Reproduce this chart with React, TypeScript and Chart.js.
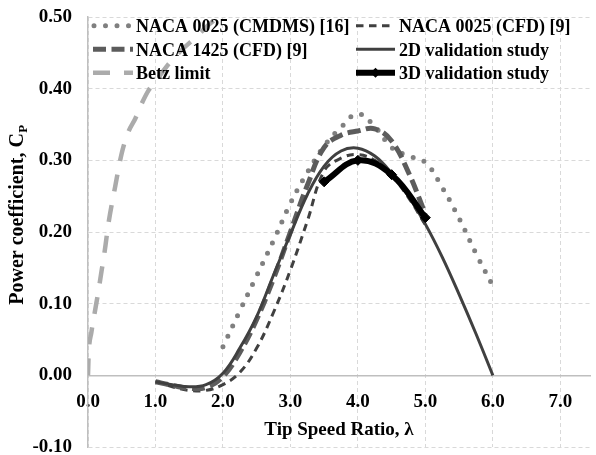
import React, { useEffect, useRef } from "react";
import { Chart, registerables } from "chart.js";

Chart.register(...registerables);

// ---------- data ----------
const xTickValues = [0, 1, 2, 3, 4, 5, 6, 7];

const cmdmsTsr = [2.0, 2.25, 2.5, 2.75, 3.0, 3.25, 3.5, 3.75, 4.0, 4.25, 4.5, 4.75, 5.0, 5.25, 5.5, 5.75, 6.0];
const cmdmsCp = [0.040, 0.090, 0.139, 0.188, 0.240, 0.283, 0.320, 0.346, 0.365, 0.347, 0.318, 0.306, 0.297, 0.262, 0.219, 0.170, 0.125];

const cfd0025Tsr = [1.0, 1.25, 1.5, 1.75, 2.0, 2.25, 2.5, 2.75, 3.0, 3.25, 3.5, 3.75, 4.0, 4.25, 4.5, 4.75, 5.0];
const cfd0025Cp = [-0.008, -0.016, -0.021, -0.021, -0.013, 0.004, 0.038, 0.088, 0.147, 0.215, 0.285, 0.303, 0.308, 0.300, 0.279, 0.248, 0.210];

const cfd1425Tsr = [1.0, 1.25, 1.5, 1.75, 2.0, 2.25, 2.5, 2.75, 3.0, 3.25, 3.5, 3.75, 4.0, 4.25, 4.5, 4.75, 5.0];
const cfd1425Cp = [-0.009, -0.014, -0.018, -0.017, -0.002, 0.032, 0.078, 0.135, 0.200, 0.265, 0.318, 0.335, 0.341, 0.344, 0.327, 0.283, 0.225];

const val2dTsr = [1.0, 1.25, 1.5, 1.75, 2.0, 2.25, 2.5, 2.75, 3.0, 3.25, 3.5, 3.75, 4.0, 4.25, 4.5, 4.75, 5.0, 5.25, 5.5, 5.75, 6.0];
const val2dCp = [-0.009, -0.013, -0.016, -0.013, 0.003, 0.038, 0.082, 0.140, 0.197, 0.252, 0.292, 0.313, 0.317, 0.306, 0.282, 0.250, 0.211, 0.165, 0.113, 0.058, 0.000];

const betzTsr = [0, 0.01, 0.05, 0.1, 0.15, 0.2, 0.25, 0.3, 0.4, 0.5, 0.6, 0.7, 0.8, 0.9, 1.0, 1.2, 1.4, 1.6, 1.8, 2.0];
const betzCp = [0, 0.03, 0.06, 0.088, 0.115, 0.145, 0.175, 0.21, 0.262, 0.31, 0.34, 0.358, 0.38, 0.398, 0.41, 0.435, 0.455, 0.472, 0.49, 0.505];

const val3dTsr = [3.5, 4.0, 4.5, 5.0];
const val3dCp = [0.270, 0.300, 0.280, 0.220];

const seriesLabels = [
  "NACA 0025 (CMDMS) [16]",
  "NACA 0025 (CFD) [9]",
  "NACA 1425 (CFD) [9]",
  "2D validation study",
  "Betz limit",
  "3D validation study",
];

const xTitle = "Tip Speed Ratio, \u03bb";
const yTitleMain = "Power coefficient, C";
const yTitleSub = "P";

const FONT = '"Liberation Serif", "Times New Roman", serif';

function pts(xs: number[], ys: number[]) {
  return xs.map((x, i) => ({ x, y: ys[i] }));
}

export default function App() {
  const ref = useRef<HTMLCanvasElement | null>(null);

  useEffect(() => {
    if (!ref.current) return;

    const datasets: any[] = [
      {
        label: seriesLabels[0],
        data: pts(cmdmsTsr, cmdmsCp),
        borderColor: "#808080",
        borderWidth: 5,
        borderDash: [0, 11.5],
        borderCapStyle: "round",
        pointRadius: 0,
        tension: 0.4,
        order: 6,
      },
      {
        label: seriesLabels[1],
        data: pts(cfd0025Tsr, cfd0025Cp),
        borderColor: "#404040",
        borderWidth: 3,
        borderDash: [7.5, 5.5],
        pointRadius: 0,
        tension: 0.4,
        order: 5,
      },
      {
        label: seriesLabels[2],
        data: pts(cfd1425Tsr, cfd1425Cp),
        borderColor: "#5c5c5c",
        borderWidth: 5,
        borderDash: [13, 5.5],
        pointRadius: 0,
        tension: 0.4,
        order: 4,
      },
      {
        label: seriesLabels[3],
        data: pts(val2dTsr, val2dCp),
        borderColor: "#404040",
        borderWidth: 3,
        pointRadius: 0,
        tension: 0.4,
        order: 3,
      },
      {
        label: seriesLabels[4],
        data: pts(betzTsr, betzCp),
        borderColor: "#ababab",
        borderWidth: 4.5,
        borderDash: [17, 14],
        pointRadius: 0,
        cubicInterpolationMode: "monotone",
        order: 2,
      },
      {
        label: seriesLabels[5],
        data: pts(val3dTsr, val3dCp),
        borderColor: "#000000",
        backgroundColor: "#000000",
        borderWidth: 6,
        pointRadius: 5,
        pointStyle: "rectRot",
        pointBorderWidth: 1,
        tension: 0.4,
        order: 1,
      },
    ];

    // custom two-column legend (drawn inside the plot area)
    const legendCols = [
      { x0: 93, x1: 133, tx: 136, items: [0, 2, 4] },
      { x0: 356, x1: 395, tx: 399, items: [1, 3, 5] },
    ];
    const legendBaselines = [32.3, 55.8, 79.3];

    const legendPlugin = {
      id: "gridLegend",
      afterDraw(chart: any) {
        const ctx = chart.ctx as CanvasRenderingContext2D;
        ctx.save();
        legendCols.forEach((col) => {
          col.items.forEach((di, row) => {
            const ds = chart.data.datasets[di];
            const base = legendBaselines[row];
            const ly = base - 6.5;
            ctx.save();
            ctx.strokeStyle = ds.borderColor;
            ctx.lineWidth = ds.borderWidth;
            ctx.setLineDash(ds.borderDash || []);
            ctx.lineCap = ds.borderCapStyle || "butt";
            ctx.beginPath();
            const start = ds.borderCapStyle === "round" ? col.x0 + 1 : col.x0;
            ctx.moveTo(start, ly);
            ctx.lineTo(col.x1, ly);
            ctx.stroke();
            if (ds.pointRadius > 0) {
              const cx = (col.x0 + col.x1) / 2;
              const r = ds.pointRadius;
              ctx.setLineDash([]);
              ctx.fillStyle = ds.backgroundColor;
              ctx.beginPath();
              ctx.moveTo(cx, ly - r);
              ctx.lineTo(cx + r, ly);
              ctx.lineTo(cx, ly + r);
              ctx.lineTo(cx - r, ly);
              ctx.closePath();
              ctx.fill();
            }
            ctx.restore();
            ctx.fillStyle = "#000000";
            ctx.font = `bold 18px ${FONT}`;
            ctx.textAlign = "left";
            ctx.textBaseline = "alphabetic";
            ctx.fillText(ds.label, col.tx, base);
          });
        });
        ctx.restore();
      },
    };

    // rotated y-axis title with subscript
    const yTitlePlugin = {
      id: "yTitleSub",
      afterDraw(chart: any) {
        const ctx = chart.ctx as CanvasRenderingContext2D;
        ctx.save();
        ctx.translate(23, 215);
        ctx.rotate(-Math.PI / 2);
        ctx.fillStyle = "#000000";
        ctx.textBaseline = "alphabetic";
        ctx.textAlign = "left";
        const mainFont = `bold 20px ${FONT}`;
        const subFont = `bold 13px ${FONT}`;
        ctx.font = mainFont;
        const w1 = ctx.measureText(yTitleMain).width;
        ctx.font = subFont;
        const w2 = ctx.measureText(yTitleSub).width;
        const x0 = -(w1 + w2) / 2;
        ctx.font = mainFont;
        ctx.fillText(yTitleMain, x0, 0);
        ctx.font = subFont;
        ctx.fillText(yTitleSub, x0 + w1 + 0.5, 3.5);
        ctx.restore();
      },
    };

    const fmt = (v: any, d: number) => {
      const n = Number(v);
      return (Math.abs(n) < 1e-9 ? 0 : n).toFixed(d);
    };

    const chart = new Chart(ref.current, {
      type: "line",
      data: { datasets },
      options: {
        animation: false,
        responsive: true,
        maintainAspectRatio: false,
        devicePixelRatio: 1,
        layout: { padding: { left: 0, top: 17, right: 0, bottom: 8 } },
        plugins: {
          legend: { display: false },
          tooltip: { enabled: false },
        },
        scales: {
          x: {
            type: "linear",
            position: { y: 0 } as any,
            min: 0,
            max: 7.44,
            afterBuildTicks: (scale: any) => {
              scale.ticks = xTickValues.map((v) => ({ value: v }));
            },
            afterFit: (scale: any) => {
              scale.paddingLeft = 0;
              scale.paddingRight = 0;
            },
            grid: {
              color: "#d9d9d9",
              lineWidth: 1,
              drawTicks: false,
            },
            border: {
              display: true,
              color: "#bfbfbf",
              width: 1.5,
              dash: [4, 3],
            },
            ticks: {
              padding: 15.5,
              color: "#000000",
              font: { family: FONT, size: 19, weight: "bold" },
              callback: (v: any) => fmt(v, 1),
            },
            title: {
              display: true,
              text: xTitle,
              color: "#000000",
              font: { family: FONT, size: 19, weight: "bold" },
              padding: { top: -10.6, bottom: 0 },
            },
          },
          y: {
            type: "linear",
            position: "left",
            min: -0.1,
            max: 0.5,
            afterFit: (scale: any) => {
              scale.width = 88;
              scale.paddingTop = 0;
              scale.paddingBottom = 0;
            },
            grid: {
              color: "#d9d9d9",
              lineWidth: 1,
              drawTicks: false,
            },
            border: {
              display: true,
              color: "#bfbfbf",
              width: 1.5,
              dash: [4, 3],
            },
            ticks: {
              stepSize: 0.1,
              padding: 16,
              color: "#000000",
              font: { family: FONT, size: 19, weight: "bold" },
              callback: (v: any) => fmt(v, 2),
            },
          },
        },
      },
      plugins: [legendPlugin, yTitlePlugin],
    } as any);

    return () => chart.destroy();
  }, []);

  return (
    <div style={{ position: "fixed", left: 0, top: 0, width: 596, height: 455, background: "#ffffff" }}>
      <canvas ref={ref} />
    </div>
  );
}
